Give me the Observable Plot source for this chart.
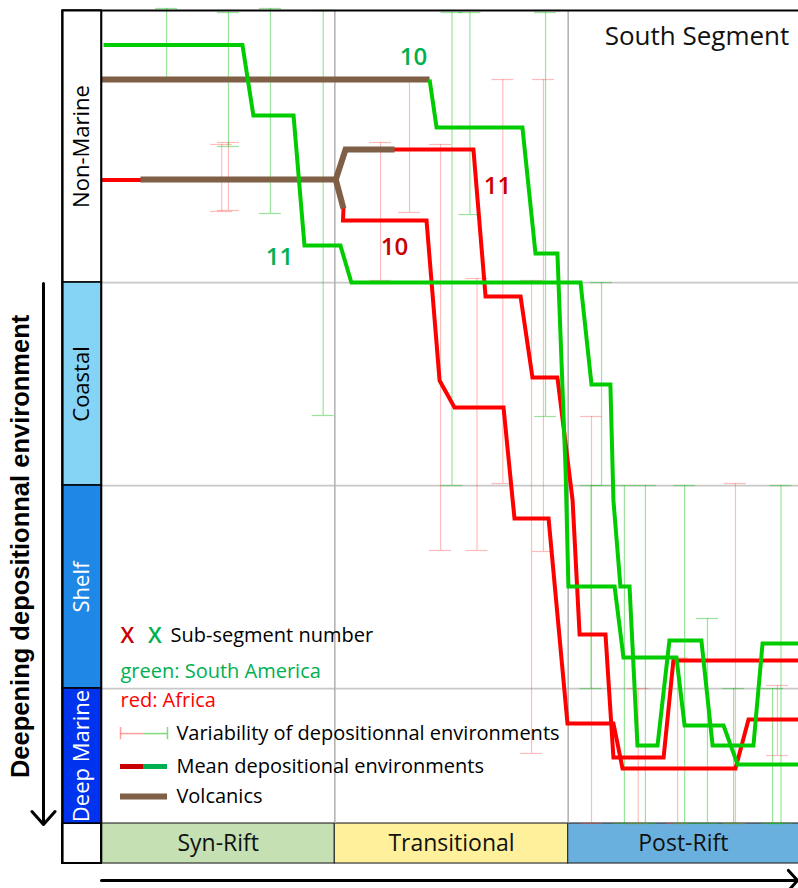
<!DOCTYPE html>
<html><head><meta charset="utf-8">
<script src="https://cdn.jsdelivr.net/npm/d3@7"></script>
<script src="https://cdn.jsdelivr.net/npm/@observablehq/plot@0.6"></script>
<style>body{margin:0;background:#fff}#chart{width:798px;height:888px;overflow:hidden}</style>
</head><body><div id="chart"></div>
<script>
// ---------- DATA ----------
// x: relative time (Syn-Rift 0-100, Transitional 100-200, Post-Rift 200-300)
// y: depositional environment index (Non-Marine < 1 < Coastal < 2 < Shelf < 3 < Deep Marine)
const phaseNames = ["Syn-Rift", "Transitional", "Post-Rift"];
const phaseStart = [0, 100, 200];
const phaseEnd = [100, 200, 300];
const envNames = ["Non-Marine", "Coastal", "Shelf", "Deep Marine"];
const envTop = [-0.34, 1, 2, 3];
const envBottom = [1, 2, 3, 3.665];

// Mean depositional environment, South America (green)
const saSub11 = [[0.9,-0.17],[60.4,-0.17],[65.1,0.177],[82.3,0.177],[87,0.818],[102.4,0.818],[107.1,1.0],[205.3,1.0],[210,1.502],[218.1,1.502],[219.4,2.074],[222.4,2.498],[226.3,2.498],[229.7,3.281],[238.3,3.281],[243.4,2.764],[257.1,2.764],[261.9,3.281],[279.4,3.281],[283.3,2.778],[298.7,2.778]];
const saSub10 = [[140.6,0],[143.6,0.236],[180.4,0.236],[186,0.857],[195.4,0.857],[198.9,1.926],[200.1,2.498],[219.9,2.498],[223.7,2.847],[246.4,2.847],[249.9,3.182],[266.6,3.182],[272.6,3.374],[298.7,3.374]];
// Mean depositional environment, Africa (red)
const afSub10 = [[0,0.495],[100.4,0.495],[103.7,0.635],[103.5,0.695],[139.3,0.695],[144.9,1.483],[151.3,1.616],[172.3,1.616],[177,2.163],[191.6,2.163],[199.7,3.172],[219.4,3.172],[223.3,3.394],[271.7,3.394],[277.3,3.153],[298.7,3.153]];
const afSub11 = [[0,0.495],[100.4,0.495],[104.6,0.345],[159.4,0.345],[164.6,1.069],[179.6,1.069],[184.7,1.468],[195.4,1.468],[201.9,2.074],[204.9,2.734],[216,2.734],[219.4,3.34],[240.9,3.34],[245.1,2.862],[298.7,2.862]];
// Volcanics
const volcSA10 = [[0,0],[140.6,0]];
const volcAF = [[16.7,0.493],[100.4,0.493],[104.6,0.345],[125.6,0.345]];
const volcAFbranch = [[100.4,0.493],[103.7,0.635]];

// Variability (error bars)
const saErrX  = [27.9, 54.4, 72.4, 95.0, 150.2, 157.9, 190.3, 214.3, 209.8, 224.1, 233.1, 249.9, 259.7, 270.9, 287.6, 291.2];
const saErrLo = [-0.35,-0.33,-0.35,-0.34,-0.33,-0.33,-0.33, 1.0, 2.0, 2.0, 2.0, 2.0, 2.655, 3.0, 3.0, 2.0];
const saErrHi = [0.0, 0.33, 0.66, 1.655, 2.0, 0.665, 1.66, 2.0, 3.0, 3.665, 3.665, 3.665, 3.665, 3.665, 3.665, 3.665];
const afErrX  = [51.5, 54.4, 119.6, 132.0, 145.3, 160.9, 172.0, 184.3, 189.4, 210.0, 230.0, 246.9, 271.7, 289.7];
const afErrLo = [0.32, 0.31, 0.31, 0.0, 0.32, 0.98, 0.0, 0.99, 0.0, 1.66, 3.0, 2.85, 1.99, 2.985];
const afErrHi = [0.65, 0.645, 0.99, 0.655, 2.32, 2.32, 1.99, 3.32, 2.325, 3.665, 3.665, 3.665, 3.665, 3.33];

// Sub-segment number labels
const subText = ["10", "11", "10", "11"];
const subSide = ["sa", "sa", "af", "af"];
const subX = [133.7, 76.3, 125.6, 169.7];
const subY = [-0.108, 0.877, 0.828, 0.527];

const legendLabels = ["Sub-segment number", "green: South America", "red: Africa",
  "Variability of depositionnal environments", "Mean depositional environments", "Volcanics"];
const titleText = "South Segment";
const axisTitle = "Deepening depositionnal environment";

// ---------- STYLE / LAYOUT ----------
const FONT = "'Open Sans', 'Noto Sans', sans-serif";
const GREEN = "#00cc00", RED = "#ff0000", BROWN = "#7f5f46";
const GREEN_T = "#00b050", RED_T = "#c80000";
const envFill = ["#ffffff", "#86d4f5", "#1f88e6", "#0033ee"];
const envInk = ["#000", "#000", "#fff", "#fff"];
const phaseFill = ["#c5e0b3", "#fff09b", "#69b0de"];
const colLeft = -16.714, plotRight = 298.714, plotTop = -0.34;
const rowTop = 3.665, rowBottom = 3.862;
const capHalf = 4.7;

const envData = envNames.map((name, i) => ({name, top: envTop[i], bottom: envBottom[i], fill: envFill[i], ink: envInk[i]}));
const phaseData = phaseNames.map((name, i) => ({name, x1: phaseStart[i], x2: phaseEnd[i], fill: phaseFill[i]}));
const saErr = saErrX.map((x, i) => ({x, lo: saErrLo[i], hi: saErrHi[i]}));
const afErr = afErrX.map((x, i) => ({x, lo: afErrLo[i], hi: afErrHi[i]}));
const caps = errs => errs.flatMap(d => [{x: d.x, y: d.lo}, {x: d.x, y: d.hi}]);
const subData = subText.map((t, i) => ({t, x: subX[i], y: subY[i], c: subSide[i] === "sa" ? GREEN_T : RED_T}));

// legend layout
const lgX0 = 8.14, lgXm = 18, lgX1 = 28.29, lgText = 32.1;
const lgY = [2.739, 2.916, 3.059, 3.222, 3.384, 3.532];
const legendText = [
  {t: legendLabels[0], x: 29.6, y: lgY[0], c: "#000"},
  {t: legendLabels[1], x: lgX0, y: lgY[1], c: GREEN_T},
  {t: legendLabels[2], x: lgX0, y: lgY[2], c: RED},
  {t: legendLabels[3], x: lgText, y: lgY[3], c: "#000"},
  {t: legendLabels[4], x: lgText, y: lgY[4], c: "#000"},
  {t: legendLabels[5], x: lgText, y: lgY[5], c: "#000"}
];

const errStyle = (c, o) => ({stroke: c, strokeOpacity: o, strokeWidth: 1.2});

const chart = Plot.plot({
  width: 798, height: 888,
  marginTop: 0, marginBottom: 0, marginLeft: 0, marginRight: 0,
  x: {domain: [-43.286, 298.714], axis: null},
  y: {domain: [-0.3893, 3.9851], range: [0, 888], axis: null},
  color: {type: "identity"},
  style: {background: "#fff", overflow: "hidden"},
  marks: [
    // phase row
    Plot.rect(phaseData, {x1: "x1", x2: "x2", y1: rowTop, y2: rowBottom, fill: "fill", stroke: "#333", strokeWidth: 1.2}),
    Plot.rect([0], {x1: colLeft, x2: 0, y1: rowTop, y2: rowBottom, fill: "#fff", stroke: "#000", strokeWidth: 2}),
    Plot.text(phaseData, {x: d => (d.x1 + Math.min(d.x2, plotRight)) / 2, y: (rowTop + rowBottom) / 2, text: "name", fontSize: 23, fontFamily: FONT, fill: "#111"}),
    // environment column
    Plot.rect(envData, {x1: colLeft, x2: 0, y1: "top", y2: "bottom", fill: "fill", stroke: "#000", strokeWidth: 1.5}),
    Plot.text(envData, {x: colLeft / 2, y: d => (d.top + d.bottom) / 2, text: "name", rotate: -90, fontSize: 22, fontFamily: FONT, fill: "ink"}),
    // grid
    Plot.ruleY([1, 2, 3], {x1: 0, x2: plotRight, stroke: "#c8c8c8", strokeWidth: 1.8}),
    Plot.ruleX([100, 200], {y1: plotTop, y2: rowTop, stroke: "#b0b0b0", strokeWidth: 1.5}),
    // variability
    Plot.ruleX(afErr, {x: "x", y1: "lo", y2: "hi", ...errStyle("#ff5050", 0.38)}),
    Plot.ruleY(caps(afErr), {y: "y", x1: d => d.x - capHalf, x2: d => d.x + capHalf, ...errStyle("#ff5050", 0.38)}),
    Plot.ruleX(saErr, {x: "x", y1: "lo", y2: "hi", ...errStyle("#20c020", 0.45)}),
    Plot.ruleY(caps(saErr), {y: "y", x1: d => d.x - capHalf, x2: d => d.x + capHalf, ...errStyle("#20c020", 0.45)}),
    // mean lines
    Plot.line(afSub10, {stroke: RED, strokeWidth: 4, strokeLinejoin: "miter", strokeMiterlimit: 3, strokeLinecap: "butt"}),
    Plot.line(afSub11, {stroke: RED, strokeWidth: 4, strokeLinejoin: "miter", strokeMiterlimit: 3, strokeLinecap: "butt"}),
    Plot.line(volcSA10, {stroke: BROWN, strokeWidth: 6, strokeLinecap: "butt"}),
    Plot.line(volcAF, {stroke: BROWN, strokeWidth: 6, strokeLinejoin: "miter", strokeMiterlimit: 3, strokeLinecap: "butt"}),
    Plot.line(volcAFbranch, {stroke: BROWN, strokeWidth: 6, strokeLinecap: "butt"}),
    Plot.line(saSub11, {stroke: GREEN, strokeWidth: 4, strokeLinejoin: "miter", strokeMiterlimit: 3, strokeLinecap: "butt"}),
    Plot.line(saSub10, {stroke: GREEN, strokeWidth: 4, strokeLinejoin: "miter", strokeMiterlimit: 3, strokeLinecap: "butt"}),
    // sub-segment labels
    Plot.text(subData, {x: "x", y: "y", text: "t", fill: "c", fontSize: 24, fontWeight: 600, fontFamily: FONT}),
    Plot.text([titleText], {x: 255.2, y: -0.212, text: d => d, fontSize: 26, fontFamily: FONT, fill: "#111"}),
    // legend
    Plot.text(["X"], {x: 11.1, y: lgY[0], text: d => d, fill: RED_T, fontSize: 22, fontWeight: 600, fontFamily: FONT}),
    Plot.text(["X"], {x: 22.9, y: lgY[0], text: d => d, fill: GREEN_T, fontSize: 22, fontWeight: 600, fontFamily: FONT}),
    Plot.text(legendText, {x: "x", y: "y", text: "t", fill: "c", textAnchor: "start", fontSize: 20, fontFamily: FONT}),
    Plot.ruleY([lgY[3]], {x1: lgX0, x2: lgXm, stroke: "#ff6060", strokeOpacity: 0.6, strokeWidth: 1.5}),
    Plot.ruleY([lgY[3]], {x1: lgXm, x2: lgX1, stroke: "#30c030", strokeOpacity: 0.6, strokeWidth: 1.5}),
    Plot.ruleX([lgX0], {y1: lgY[3] - 0.03, y2: lgY[3] + 0.03, stroke: "#ff6060", strokeOpacity: 0.6, strokeWidth: 1.5}),
    Plot.ruleX([lgX1], {y1: lgY[3] - 0.03, y2: lgY[3] + 0.03, stroke: "#30c030", strokeOpacity: 0.6, strokeWidth: 1.5}),
    Plot.ruleY([lgY[4]], {x1: lgX0, x2: lgXm, stroke: RED_T, strokeWidth: 5}),
    Plot.ruleY([lgY[4]], {x1: lgXm, x2: lgX1, stroke: GREEN_T, strokeWidth: 5}),
    Plot.ruleY([lgY[5]], {x1: lgX0, x2: lgX1, stroke: BROWN, strokeWidth: 6}),
    // frame
    Plot.ruleY([plotTop], {x1: colLeft, x2: plotRight, stroke: "#000", strokeWidth: 2.2}),
    Plot.ruleX([colLeft], {y1: plotTop, y2: rowBottom, stroke: "#000", strokeWidth: 2.2}),
    Plot.ruleX([0], {y1: plotTop, y2: rowBottom, stroke: "#000", strokeWidth: 1.6}),
    // axis title and arrows
    Plot.text([axisTitle], {x: -34.7, y: 2.3, text: d => d, rotate: -90, fontSize: 25.5, fontWeight: "bold", fontFamily: "'Liberation Sans', Arial, sans-serif", fill: "#000"}),
    Plot.arrow([0], {x1: -24.86, x2: -24.86, y1: 1.005, y2: 3.67, stroke: "#000", strokeWidth: 3, headLength: 8.7, headAngle: 83}),
    Plot.arrow([0], {x1: 0, x2: 298.3, y1: 3.946, y2: 3.946, stroke: "#000", strokeWidth: 3, headLength: 6.8, headAngle: 96})
  ]
});
document.getElementById("chart").appendChild(chart);
</script>
</body></html>
